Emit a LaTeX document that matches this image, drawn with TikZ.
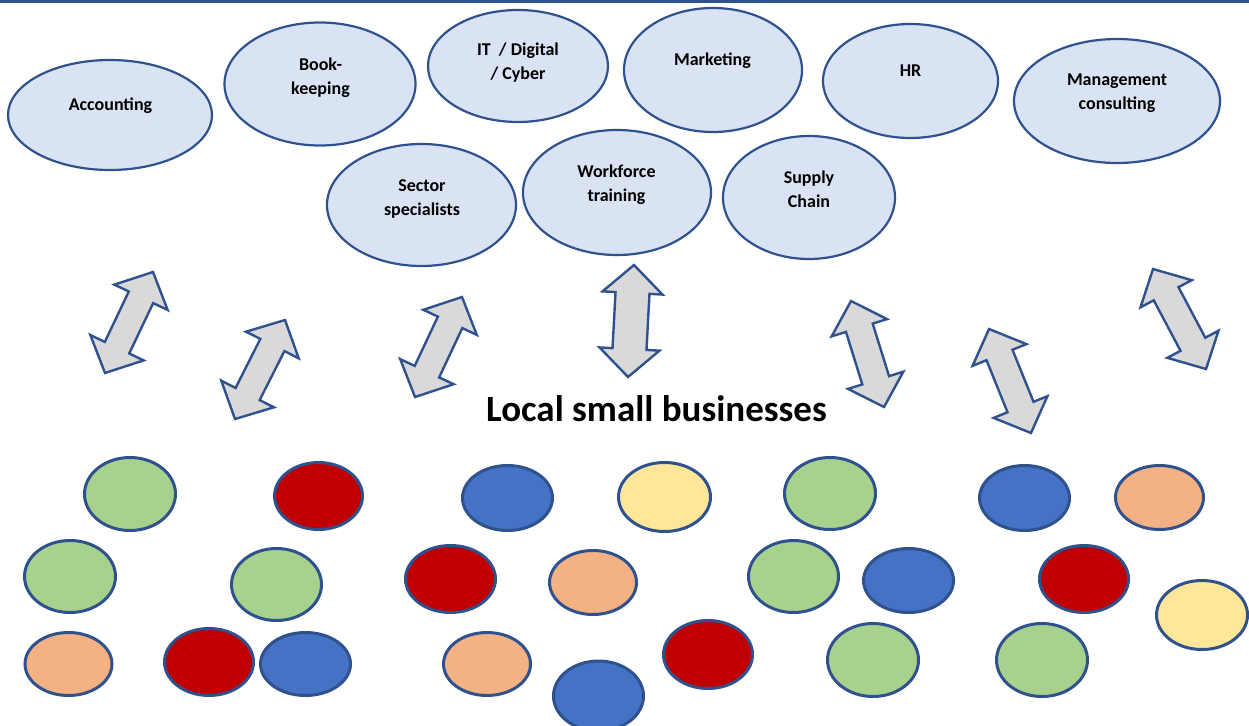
\documentclass[tikz,border=0pt]{standalone}
\usepackage{fontspec}
\setmainfont{Carlito}
\usetikzlibrary{calc,shapes.geometric}

\definecolor{edge}{HTML}{2F528F}
\definecolor{svcfill}{HTML}{DAE3F3}
\definecolor{arrfill}{HTML}{D9D9D9}
\definecolor{bizgreen}{HTML}{A9D18E}
\definecolor{bizred}{HTML}{C00000}
\definecolor{bizblue}{HTML}{4472C4}
\definecolor{bizyellow}{HTML}{FFE699}
\definecolor{bizorange}{HTML}{F4B183}

% double-headed block arrow between two tip coordinates
% #1 upper tip, #2 lower tip, #3 half head width, #4 half shaft width
\newcommand\dblblockarrow[4]{%
  \coordinate (#1-h) at ($(#1)!28pt!(#2)$);
  \coordinate (#2-h) at ($(#2)!28pt!(#1)$);
  \draw[blockarrow] (#1)
    -- ($(#1-h)!#3!90:(#2)$)
    -- ($(#1-h)!#4!90:(#2)$)
    -- ($(#2-h)!#4!-90:(#1)$)
    -- ($(#2-h)!#3!-90:(#1)$)
    -- (#2)
    -- ($(#2-h)!#3!90:(#1)$)
    -- ($(#2-h)!#4!90:(#1)$)
    -- ($(#1-h)!#4!-90:(#2)$)
    -- ($(#1-h)!#3!-90:(#2)$)
    -- cycle;
}

\begin{document}
\begin{tikzpicture}[x=1pt,y=-1pt,
  svc/.style={ellipse, draw=edge, fill=svcfill, line width=2.2pt, inner sep=0pt},
  biz/.style={ellipse, draw=edge, line width=3pt, inner sep=0pt},
  lbl/.style={font=\fontsize{18}{24}\selectfont\bfseries, align=center, inner sep=0pt},
  blockarrow/.style={draw=edge, fill=arrfill, line width=2.4pt, line join=miter},
  bigtitle/.style={font=\fontsize{37}{44}\selectfont\bfseries, inner sep=0pt, anchor=base}]

\useasboundingbox (0,0) rectangle (1249,725);

% rule along the top edge
\draw[edge, line width=3pt] (0,2) -- (1249,2);

% support services
\node[svc, minimum width=204, minimum height=110] (acc)  at (110,115)   {};
\node[svc, minimum width=191, minimum height=123] (book) at (320,84)    {};
\node[svc, minimum width=189, minimum height=122] (sect) at (421.5,205) {};
\node[svc, minimum width=180, minimum height=112] (it)   at (518,66)    {};
\node[svc, minimum width=178, minimum height=124] (mkt)  at (713,70)    {};
\node[svc, minimum width=188, minimum height=125] (wf)   at (617,192.5) {};
\node[svc, minimum width=172, minimum height=123] (sc)   at (809,197.5) {};
\node[svc, minimum width=175, minimum height=114] (hr)   at (910.5,81)  {};
\node[svc, minimum width=206, minimum height=124] (mc)   at (1117,101)  {};

\node[lbl, anchor=base] (acc-t)  at (110.5,110) {Accounting};
\node[lbl] (book-t) at (320.5,77.5) {Book-\\keeping};
\node[lbl] (sect-t) at (422,199)    {Sector\\specialists};
\node[lbl] (it-t)   at (518,63)     {IT~~/ Digital\\/ Cyber};
\node[lbl, anchor=base] (mkt-t)  at (712.5,66) {Marketing};
\node[lbl] (wf-t)   at (616.5,184.5) {Workforce\\training};
\node[lbl] (sc-t)   at (809,189)    {Supply\\Chain};
\node[lbl, anchor=base] (hr-t)   at (910.5,76) {HR};
\node[lbl] (mc-t)   at (1117,93.5)  {Management\\consulting};

% two-way links
\coordinate (a1t) at (153,272);   \coordinate (a1b) at (105,373);
\coordinate (a2t) at (285,320);   \coordinate (a2b) at (235,419);
\coordinate (a3t) at (462,297);   \coordinate (a3b) at (415,397);
\coordinate (a4t) at (634,265);   \coordinate (a4b) at (628,377);
\coordinate (a5t) at (851,301);   \coordinate (a5b) at (884,407);
\coordinate (a6t) at (989,329);   \coordinate (a6b) at (1031,433);
\coordinate (a7t) at (1153,269);  \coordinate (a7b) at (1206,369);

\dblblockarrow{a1t}{a1b}{29.5pt}{13.5pt}
\dblblockarrow{a2t}{a2b}{29.5pt}{13.5pt}
\dblblockarrow{a3t}{a3b}{29.5pt}{13.5pt}
\dblblockarrow{a4t}{a4b}{30pt}{17pt}
\dblblockarrow{a5t}{a5b}{29pt}{14pt}
\dblblockarrow{a6t}{a6b}{29pt}{14pt}
\dblblockarrow{a7t}{a7b}{29pt}{14pt}

\node[bigtitle] (title) at (656.5,421) {Local small businesses};

% local businesses
\node[biz, fill=bizgreen,  minimum width=91, minimum height=73] (g1) at (130,494)     {};
\node[biz, fill=bizred,    minimum width=88, minimum height=67] (r1) at (318.5,496)   {};
\node[biz, fill=bizgreen,  minimum width=91, minimum height=72] (g2) at (70,576.5)    {};
\node[biz, fill=bizgreen,  minimum width=90, minimum height=72] (g3) at (276.5,584.5) {};
\node[biz, fill=bizorange, minimum width=87, minimum height=63] (o1) at (68.5,664)    {};
\node[biz, fill=bizred,    minimum width=89, minimum height=67] (r2) at (209,662)     {};
\node[biz, fill=bizblue,   minimum width=90, minimum height=63] (b1) at (305.5,664)   {};
\node[biz, fill=bizblue,   minimum width=90, minimum height=65] (b2) at (507.5,498)   {};
\node[biz, fill=bizyellow, minimum width=92, minimum height=69] (y1) at (664.5,497)   {};
\node[biz, fill=bizgreen,  minimum width=91, minimum height=72] (g4) at (830,493.5)   {};
\node[biz, fill=bizred,    minimum width=90, minimum height=67] (r3) at (450.5,579)   {};
\node[biz, fill=bizorange, minimum width=87, minimum height=64] (o2) at (593,582.5)   {};
\node[biz, fill=bizgreen,  minimum width=90, minimum height=72] (g5) at (793.5,576.5) {};
\node[biz, fill=bizorange, minimum width=87, minimum height=63] (o3) at (487,664)     {};
\node[biz, fill=bizblue,   minimum width=90, minimum height=70] (b3) at (598.5,696)   {};
\node[biz, fill=bizred,    minimum width=89, minimum height=68] (r4) at (708,654.5)   {};
\node[biz, fill=bizgreen,  minimum width=91, minimum height=73] (g6) at (873,660)     {};
\node[biz, fill=bizblue,   minimum width=90, minimum height=65] (b4) at (1024.5,498)  {};
\node[biz, fill=bizorange, minimum width=88, minimum height=64] (o4) at (1159.5,497.5) {};
\node[biz, fill=bizblue,   minimum width=90, minimum height=64] (b5) at (908.5,580.5) {};
\node[biz, fill=bizred,    minimum width=89, minimum height=67] (r5) at (1084,579)    {};
\node[biz, fill=bizyellow, minimum width=91, minimum height=69] (y2) at (1202,615)    {};
\node[biz, fill=bizgreen,  minimum width=91, minimum height=73] (g7) at (1042,660)    {};

\end{tikzpicture}
\end{document}
